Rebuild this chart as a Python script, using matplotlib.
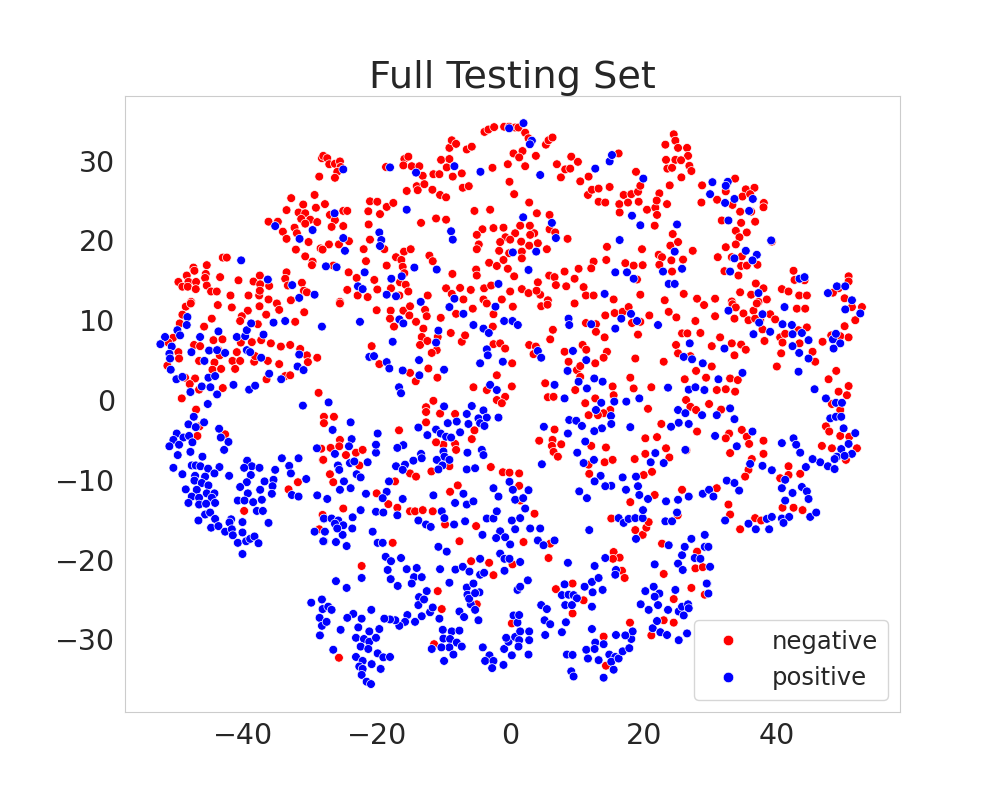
import numpy as np
import pandas as pd
import seaborn as sns
from matplotlib import pyplot as plt

# t-SNE points, (x, y) per point
negative_xy = [
    (-28.2, 30.3), (-28.6, 28.0), (-32.8, 25.3), (-29.3, 25.7), (-33.5, 23.8), (-31.0, 24.5),
    (-31.7, 23.5), (-30.7, 23.4), (-29.1, 24.1), (-36.2, 22.35), (-34.8, 22.35), (-31.3, 22.7),
    (-29.95, 22.6), (-30.7, 22.1), (-28.9, 22.3), (-32.3, 21.6), (-34.05, 21.1), (-31.95, 20.9),
    (-33.5, 20.2), (-30.2, 19.8), (-28.4, 19.0), (-32.1, 18.85), (-30.7, 18.0), (-29.6, 17.35),
    (-29.7, 16.9), (-43.05, 17.85), (-42.45, 17.85), (-45.45, 16.9), (-47.45, 16.6), (-47.3, 16.2),
    (-48.45, 15.6), (-45.6, 15.8), (-45.7, 15.3), (-49.7, 14.8), (-48.2, 14.8), (-47.05, 14.8),
    (-49.1, 14.2), (-48.3, 14.2), (-45.45, 14.35), (-47.1, 13.9), (-43.45, 15.4), (-40.7, 15.0),
    (-38.45, 14.85), (-37.5, 15.6), (-37.45, 14.5), (-36.1, 14.3), (-33.5, 16.0), (-33.7, 15.2),
    (-33.3, 14.35), (-31.2, 14.7), (-30.9, 13.7), (-30.45, 13.5), (-44.8, 13.6), (-43.95, 13.6),
    (-41.9, 13.1), (-39.2, 13.1), (-37.6, 13.1), (-37.5, 13.7), (-36.2, 12.6), (-32.85, 12.5),
    (-47.8, 12.3),
    (-48.6, 11.7), (-47.85, 12.1), (-43.8, 11.9), (-41.7, 11.6), (-39.3, 11.2), (-40.2, 10.5),
    (-40.45, 9.9), (-37.55, 11.75), (-34.95, 12.1), (-34.6, 11.3), (-36.55, 10.7), (-30.85, 11.0),
    (-32.2, 9.8), (-37.8, 9.5), (-49.1, 10.7), (-49.5, 9.6), (-45.85, 9.2), (-44.7, 10.2),
    (-50.5, 7.8), (-51.2, 7.2), (-47.35, 6.9), (-46.45, 6.75), (-44.45, 7.5), (-43.1, 7.6),
    (-40.35, 7.2), (-38.7, 7.25), (-37.3, 7.5), (-35.85, 7.1), (-34.35, 6.7), (-32.95, 6.9),
    (-31.45, 6.4), (-30.45, 5.6), (-28.9, 5.3), (-30.3, 4.75), (-49.7, 6.0), (-49.6, 5.2),
    (-51.35, 4.3), (-46.6, 4.9), (-43.7, 6.25), (-43.5, 5.6), (-40.95, 6.0), (-44.3, 4.7),
    (-44.6, 3.8), (-43.3, 3.9), (-41.6, 4.9), (-40.45, 4.9), (-41.2, 3.9), (-38.35, 4.8),
    (-38.2, 5.5), (-36.3, 4.9), (-34.6, 4.5), (-33.7, 3.0), (-32.95, 3.1), (-36.5, 2.6),
    (-48.7, 2.8), (-47.2, 2.7), (-48.0, 2.0), (-43.05, 1.5), (-49.2, 0.2), (-46.6, 1.3),
    (-47.05, -1.2), (-28.7, 0.9), (-27.9, -2.1), (-27.9, -2.9), (-46.55, -3.3), (-46.85, -4.5),
    (-42.7, -4.3), (-28.3, -6.1), (-28.05, -7.5), (-31.8, -10.3), (-33.2, -11.2),
    (-39.85, -13.9), (-28.6, -16.2), (-28.1, -14.4),
    (-28.0, 30.6), (-27.4, 30.3), (-27.1, 29.55), (-26.25, 29.6), (-25.5, 29.9), (-25.4, 29.2),
    (-25.9, 28.6), (-26.25, 27.85), (-18.6, 29.2), (-15.85, 30.2), (-15.25, 30.5), (-16.0, 29.4),
    (-14.75, 29.3), (-13.6, 29.3), (-13.1, 28.1), (-14.0, 26.8), (-13.85, 26.3), (-15.5, 26.2),
    (-12.85, 27.05), (-11.65, 26.35), (-11.5, 28.3), (-10.6, 28.3), (-10.35, 30.1), (-9.1, 30.2),
    (-9.5, 29.15), (-8.6, 28.0), (-7.25, 28.4), (-7.1, 26.6), (-6.2, 26.8), (-10.5, 25.7),
    (-9.6, 25.4), (-9.1, 31.6), (-8.75, 32.55), (-8.1, 32.1), (-6.5, 31.4), (-5.75, 31.75),
    (-3.85, 33.6), (-3.25, 33.9), (-2.4, 34.2), (-0.9, 34.25), (-0.15, 34.25), (0.75, 34.15),
    (0.5, 30.9), (-0.35, 29.55), (-2.65, 29.1), (-0.1, 27.35), (0.6, 25.8), (-27.75, 24.55),
    (-27.0, 23.2), (-26.25, 22.55), (-25.0, 23.7), (-24.4, 23.7), (-25.0, 21.8), (-26.75, 21.7),
    (-24.15, 19.9), (-25.65, 19.5), (-27.15, 19.5), (-28.1, 18.85), (-21.0, 24.9), (-19.9, 24.85),
    (-21.25, 23.65), (-18.5, 24.2), (-17.5, 24.7), (-19.5, 23.3), (-21.2, 22.0), (-21.0, 20.1),
    (-21.95, 18.9), (-18.85, 18.9), (-21.6, 17.4), (-24.2, 16.0), (-26.5, 16.85), (-23.0, 15.3),
    (-24.4, 13.8), (-22.85, 13.1), (-21.35, 12.9), (-20.35, 15.05), (-19.9, 13.85), (-18.5, 16.85),
    (-17.1, 17.9), (-15.9, 18.6), (-14.9, 18.9), (-16.3, 17.55), (-16.1, 16.7), (-15.85, 15.9),
    (-17.85, 14.0), (-16.5, 14.75), (-15.65, 14.45), (-15.25, 13.6), (-16.6, 13.1), (-12.35, 13.1),
    (-13.35, 22.2), (-11.1, 22.75), (-9.6, 22.6), (-12.1, 18.1), (-11.6, 17.4), (-8.65, 15.8),
    (-9.6, 14.0), (-7.5, 14.05), (-5.35, 23.7), (-3.0, 23.85), (-4.15, 21.4), (-2.5, 21.55),
    (-1.0, 21.6), (-5.0, 20.7), (-4.7, 19.5), (-5.0, 18.9), (-0.7, 20.4), (0.75, 20.9),
    (-1.5, 19.8), (0.0, 20.1), (-1.65, 18.7), (-0.15, 18.4), (-3.15, 17.2), (-1.0, 17.55),
    (-2.0, 16.8), (-0.35, 16.45), (-5.1, 16.35), (-5.0, 15.6), (-3.9, 14.0), (-2.85, 14.35),
    (0.6, 15.5), (0.0, 13.6), (-1.25, 12.6), (-4.0, 12.6), (-5.9, 13.8), (-7.0, 12.6),
    (-8.75, 13.3), (-25.5, 12.3),
    (-25.5, 12.1), (-20.0, 11.25), (-17.9, 11.2), (-18.0, 10.2), (-17.4, 9.2), (-16.0, 11.2),
    (-15.0, 11.75), (-15.1, 10.6), (-14.1, 9.8), (-12.75, 11.3), (-12.5, 10.5), (-13.0, 8.95),
    (-13.25, 7.9), (-13.5, 6.9), (-12.4, 7.4), (-10.85, 7.9), (-11.0, 6.25), (-11.75, 5.9),
    (-10.4, 10.3), (-8.1, 10.8), (-8.9, 8.4), (-7.25, 7.3), (-6.75, 8.1), (-5.6, 11.45),
    (-2.5, 10.75), (-2.6, 9.2), (-3.5, 12.1), (-2.5, 7.0), (-1.5, 7.1), (0.4, 11.7),
    (-0.75, 6.45), (0.3, 4.6), (-20.75, 6.75), (-19.6, 4.5), (-15.0, 3.4), (-14.15, 2.35),
    (-12.25, 3.95), (-10.9, 2.8), (-5.5, 1.6), (-3.5, 1.25), (-2.0, 3.1), (0.25, 1.7),
    (-0.75, 0.4), (-2.0, 0.0), (-1.25, -0.4), (-11.5, -0.1), (-12.6, -0.9), (-12.6, -1.5),
    (-10.5, -1.7), (-8.25, -1.75), (-12.6, -2.8), (-5.35, -3.8), (-5.75, -4.9), (-8.25, -5.5),
    (-10.0, -5.6), (-11.1, -5.3), (-8.1, -6.25), (-16.65, -3.8), (-25.5, -5.0), (-26.9, -6.0),
    (-25.6, -5.8), (-24.6, -6.9), (-23.1, -6.6), (-22.1, -6.25), (-28.0, -7.5), (-22.6, -8.2),
    (-27.0, -9.3), (-26.5, -10.3), (-15.0, -9.2), (-17.25, -10.2), (-14.1, -9.6), (-9.1, -8.3),
    (-11.8, -8.95), (-2.9, -8.4), (-1.1, -9.05), (-0.1, -9.1), (-7.85, -10.7), (-9.0, -11.5),
    (-20.0, -11.7), (-18.25, -13.05), (-26.4, -2.1),
    (-25.0, -13.6), (-16.9, -13.5), (-15.0, -13.95), (-14.25, -13.95), (-13.1, -13.8),
    (-11.6, -13.95), (-9.75, -15.6), (-5.1, -15.8), (-7.6, -17.7), (-17.6, -17.9), (-22.25, -20.8),
    (-5.85, -20.2), (-3.15, -20.4), (-2.5, -21.95), (0.35, -20.6), (-10.85, -23.95),
    (-10.25, -26.2), (-5.0, -25.6), (0.25, -28.0), (-11.4, -30.6), (-25.65, -32.3),
    (1.25, 34.15), (2.25, 33.5), (2.75, 32.8), (5.35, 32.0), (5.75, 32.55), (6.35, 32.9),
    (1.85, 31.2), (1.35, 30.4), (2.25, 29.3), (3.85, 30.6), (7.0, 29.55), (8.25, 28.9),
    (7.6, 27.9), (9.15, 30.5), (10.15, 29.85), (9.0, 29.0), (10.5, 27.4), (11.75, 28.0),
    (11.65, 25.7), (12.25, 26.35), (13.25, 26.5), (14.9, 26.7), (13.25, 24.85), (14.25, 24.75),
    (16.25, 30.9), (17.0, 25.7), (16.35, 24.55), (16.4, 23.5), (17.65, 24.75), (18.15, 25.8),
    (19.15, 26.1), (19.25, 24.85), (19.5, 26.85), (18.85, 28.6), (20.5, 23.85), (21.75, 24.1),
    (22.0, 23.2), (22.35, 25.9), (21.95, 25.0), (23.5, 24.55), (21.65, 21.85), (23.9, 26.9),
    (24.5, 33.3), (24.75, 32.5), (25.15, 31.6), (23.25, 32.0), (26.5, 31.6), (26.65, 30.6),
    (23.35, 30.1), (24.75, 30.1), (25.6, 30.05), (25.65, 27.9), (26.85, 29.35), (27.15, 28.7),
    (23.55, 29.0), (24.25, 29.1), (28.75, 26.9), (28.65, 24.75), (2.85, 24.75), (4.0, 23.4),
    (5.9, 23.2), (1.5, 21.85), (2.95, 21.85), (3.6, 20.9), (5.9, 21.4), (6.75, 21.0),
    (1.65, 19.85), (3.0, 20.7), (4.15, 19.65), (5.5, 18.9), (1.75, 18.6), (2.85, 19.35),
    (1.75, 17.75), (8.6, 20.2), (14.5, 19.2), (14.4, 17.55), (12.5, 17.35), (12.15, 16.5),
    (10.25, 16.45), (8.15, 16.1), (5.85, 15.6), (6.65, 15.4), (9.65, 15.2), (8.4, 14.25),
    (11.0, 14.15), (11.35, 13.1), (12.5, 13.1), (6.85, 14.4), (4.15, 14.75), (1.75, 13.9),
    (2.75, 13.4), (4.5, 13.2), (5.65, 12.5), (3.95, 13.7), (19.75, 18.9), (17.25, 17.15),
    (18.5, 16.85), (19.85, 16.9), (19.0, 15.1), (22.25, 18.2), (22.75, 17.9), (24.15, 17.5),
    (25.9, 17.6), (27.35, 18.7), (24.0, 19.35), (25.15, 19.8), (24.35, 20.8), (22.35, 16.95),
    (24.25, 16.1), (26.0, 13.3), (28.0, 12.7), (23.15, 12.5), (19.5, 13.2), (15.5, 12.6),
    (4.65, 11.75), (5.6, 11.95), (9.65, 12.1), (14.25, 10.6), (15.65, 10.9), (16.85, 11.05),
    (17.75, 11.65), (18.25, 9.65), (19.5, 9.8), (20.85, 10.6), (23.75, 11.05), (24.9, 10.35),
    (27.75, 9.9), (29.05, 11.9), (11.35, 9.65), (12.85, 9.5), (12.85, 8.55), (14.15, 7.85),
    (19.15, 8.2), (6.4, 8.8), (6.0, 7.6), (2.85, 6.9), (3.85, 6.7), (3.5, 5.75),
    (8.15, 6.05), (10.85, 6.9), (11.4, 6.3), (14.5, 6.05), (14.0, 5.3), (12.75, 4.6),
    (8.75, 4.8), (10.0, 3.75), (10.5, 4.25), (18.75, 5.2), (23.0, 4.8), (25.75, 8.35),
    (26.55, 8.35), (28.5, 8.4), (24.85, 6.9), (25.15, 5.85), (27.0, 5.5), (27.85, 3.65),
    (26.15, 2.6), (29.35, 2.8), (26.35, 0.0), (27.0, -0.85), (27.85, -1.25), (5.25, 2.1),
    (5.65, 0.35), (6.5, 0.4), (9.75, 1.25), (10.5, 2.9), (12.75, 0.2), (15.35, 1.7),
    (15.5, 0.6), (11.25, -0.4), (15.0, -1.25), (14.0, -1.65), (13.15, -1.9), (11.75, -1.9),
    (18.0, 2.8), (18.5, 1.45), (21.15, 1.6), (20.65, -1.1), (6.65, -3.7), (4.35, -5.1),
    (6.35, -5.0), (6.25, -5.75), (7.65, -5.55), (6.5, -6.5), (7.15, -7.1), (12.15, -5.75),
    (14.35, -5.95), (18.65, -7.4), (20.25, -4.8), (22.0, -4.65), (20.25, -6.75), (23.35, -6.05),
    (23.85, -7.2), (26.4, -6.3), (22.65, -3.0), (28.0, -3.95), (1.35, -9.2), (1.35, -10.75),
    (1.5, -12.6), (11.75, -8.1), (11.85, -9.25), (14.15, -7.8), (15.35, -7.5), (20.0, -9.4),
    (21.25, -9.0), (21.65, -11.9), (18.0, -12.8), (25.75, -11.25),
    (3.65, -14.25), (2.0, -17.8), (6.0, -18.0), (5.75, -19.8), (6.85, -23.7), (9.35, -23.0),
    (11.0, -25.1), (9.35, -26.75), (15.5, -19.05), (16.4, -19.75), (15.4, -19.9), (16.75, -21.4),
    (17.15, -22.3), (15.15, -14.85), (18.75, -16.3), (19.85, -16.9), (20.4, -16.0), (20.75, -15.3),
    (22.75, -18.0), (25.1, -14.45), (23.0, -21.8), (28.0, -19.0), (27.75, -21.1), (28.85, -20.95),
    (27.15, -23.55), (29.15, -24.4), (24.5, -24.95), (23.0, -27.6), (24.5, -27.9), (21.15, -29.5),
    (17.95, -27.9), (14.0, -29.65), (14.35, -33.3),
    (33.7, 27.75), (35.3, 26.4), (36.6, 26.6), (32.3, 26.15), (34.8, 25.5), (35.95, 25.8),
    (31.0, 25.1), (33.3, 24.45), (34.45, 23.6), (36.1, 23.6), (38.0, 24.7), (37.95, 24.15),
    (31.7, 22.5), (34.6, 22.2), (36.7, 22.35), (33.8, 21.2), (35.45, 21.0), (34.35, 20.4),
    (33.8, 19.5), (32.3, 19.15), (31.1, 17.9), (33.2, 17.9), (34.7, 18.0), (32.1, 16.15),
    (34.6, 16.8), (35.45, 16.85), (37.05, 16.95), (34.2, 15.6), (39.2, 19.85), (42.45, 16.2),
    (42.6, 15.05), (44.1, 15.0), (36.8, 14.6), (37.95, 14.0), (34.45, 13.5), (36.1, 13.2),
    (40.7, 13.9), (41.7, 13.6), (43.3, 13.1), (44.45, 13.1), (30.7, 12.7), (33.2, 12.35),
    (37.2, 12.3), (38.45, 12.6), (50.7, 15.5), (49.2, 14.0), (48.35, 13.45), (50.1, 12.75),
    (50.7, 14.85),
    (33.3, 12.0), (33.8, 11.6), (34.95, 10.85), (36.45, 11.2), (36.95, 12.1), (37.45, 10.0),
    (38.95, 10.75), (39.7, 10.1), (37.8, 8.85), (35.7, 10.0), (36.7, 10.2), (33.6, 10.2),
    (30.7, 10.5), (31.45, 7.85), (30.2, 6.75), (33.2, 7.1), (34.6, 6.95), (35.3, 6.3),
    (33.6, 5.6), (38.1, 7.4), (40.45, 7.85), (40.8, 7.2), (40.6, 5.85), (39.95, 4.2),
    (41.2, 8.3), (42.95, 11.45), (44.2, 11.45), (43.2, 8.75), (44.45, 9.1), (43.35, 7.1),
    (45.3, 6.05), (45.7, 4.8), (46.8, 7.3), (48.1, 8.1), (49.45, 8.0), (50.7, 7.85),
    (50.1, 9.25), (51.7, 10.0), (51.2, 11.65), (52.7, 11.65), (48.85, 3.65), (47.7, 2.6),
    (50.7, 1.75), (50.45, 0.6), (49.2, 1.05), (49.45, -1.25), (48.2, -0.5), (47.3, -3.3),
    (47.8, -3.95), (49.45, -4.5), (46.7, -5.75), (48.2, -6.05), (50.3, -7.5), (50.8, -4.6),
    (51.95, -6.05), (30.2, 4.2), (32.95, 2.7), (34.1, 2.5), (30.95, 1.25), (32.3, 1.35),
    (33.7, 1.05), (29.8, -0.5), (31.6, -1.2), (32.8, -4.2), (32.3, -4.8), (34.7, -3.75),
    (35.45, -4.6), (35.8, -5.5), (32.95, -6.65), (37.95, -5.1), (37.95, -6.75), (36.2, -7.4),
    (35.7, -8.75), (35.2, -9.6), (40.45, -9.8), (41.7, -8.3), (41.7, -9.4), (43.45, -9.25),
    (30.95, -11.05), (32.7, -13.1),
    (32.95, -14.35), (34.45, -16.2), (36.7, -14.8), (37.6, -15.1), (40.8, -13.5), (42.45, -13.5),
    (43.8, -13.8),
]

positive_xy = [
    (-35.2, 21.8), (-31.55, 20.2), (-29.6, 21.3), (-40.3, 17.5), (-36.3, 15.1), (-32.65, 14.4),
    (-31.6, 12.8), (-29.3, 13.2),
    (-48.35, 10.4), (-48.45, 9.4), (-49.85, 8.75), (-49.45, 8.1), (-51.7, 7.9), (-52.4, 7.0),
    (-50.7, 6.7), (-51.05, 5.8), (-50.95, 5.2), (-50.85, 3.8), (-50.0, 2.6), (-49.1, 2.9),
    (-47.75, 6.0), (-46.45, 7.9), (-45.1, 6.2), (-43.7, 8.6), (-43.9, 6.25), (-42.7, 5.9),
    (-45.8, 4.9), (-45.2, 2.8), (-44.2, 3.0), (-46.2, 1.7), (-44.9, 1.6), (-43.9, 0.7),
    (-47.9, 1.0), (-41.45, 1.9), (-39.1, 1.3), (-38.2, 1.8), (-40.95, 7.9), (-39.7, 8.0),
    (-39.45, 8.75), (-38.8, 9.6), (-36.95, 8.2), (-39.45, 6.25), (-38.95, 6.0), (-37.3, 5.3),
    (-35.45, 9.7), (-33.7, 9.9), (-36.1, 3.3), (-34.3, 2.6), (-31.85, 4.2), (-30.95, 3.75),
    (-31.6, 5.7), (-28.2, 9.2), (-31.05, -0.7), (-45.3, -0.5), (-47.4, -2.1), (-48.2, -3.05),
    (-45.85, -2.8), (-47.1, -3.4), (-43.6, -3.6), (-49.95, -4.2), (-50.45, -5.0), (-48.95, -4.7),
    (-48.1, -4.5), (-49.6, -5.6), (-51.05, -5.8), (-47.6, -5.3), (-42.2, -5.25), (-43.35, -4.7),
    (-42.85, -6.25), (-47.9, -6.5), (-49.8, -6.9), (-46.1, -7.1), (-50.45, -8.5), (-47.7, -8.2),
    (-47.1, -8.2), (-46.4, -8.3), (-45.25, -8.6), (-43.55, -8.4), (-49.1, -9.3), (-47.2, -9.5),
    (-45.7, -9.6), (-44.3, -9.2), (-42.1, -9.5), (-47.3, -10.1), (-46.2, -10.4), (-45.2, -10.7),
    (-48.6, -11.2), (-46.95, -11.25), (-45.45, -11.7), (-44.3, -11.7), (-47.7, -12.1),
    (-46.6, -12.25), (-44.7, -12.25), (-48.2, -12.9), (-46.6, -13.1), (-45.55, -13.0),
    (-44.2, -12.9), (-39.4, -7.6), (-38.7, -8.3), (-39.85, -8.5), (-37.55, -8.5), (-38.85, -9.4),
    (-39.45, -10.3), (-36.8, -10.2), (-35.45, -10.0), (-35.2, -8.75), (-34.2, -7.3), (-33.1, -8.25),
    (-31.7, -7.3), (-32.85, -9.2), (-30.55, -9.9), (-40.45, -10.9), (-39.3, -11.7), (-37.45, -11.25),
    (-35.6, -10.8), (-35.7, -11.75), (-32.7, -11.9), (-31.7, -12.1), (-28.9, -11.95), (-40.8, -12.6),
    (-39.8, -12.6), (-38.5, -12.8), (-37.2, -12.5), (-28.95, -6.05),
    (-45.7, -14.35), (-44.95, -14.1), (-46.7, -15.1), (-44.2, -14.9), (-44.8, -16.0), (-43.7, -15.8),
    (-41.8, -14.95), (-42.05, -15.35), (-42.7, -16.5), (-41.7, -16.2), (-41.55, -16.95), (-40.1, -15.3),
    (-40.1, -16.6), (-40.8, -17.9), (-39.55, -17.7), (-38.95, -17.4), (-38.3, -17.1), (-37.7, -17.95),
    (-40.1, -19.3), (-37.95, -13.9), (-37.05, -13.9), (-36.2, -15.4), (-29.3, -16.5), (-27.9, -14.9),
    (-27.9, -17.7), (-29.8, -25.4), (-28.2, -25.0), (-28.1, -26.2), (-28.55, -27.3), (-28.2, -28.3),
    (-28.5, -29.5),
    (-25.0, 28.9), (-18.0, 29.15), (-14.1, 28.5), (-8.35, 29.3), (-4.45, 28.6), (-0.15, 34.05),
    (-15.5, 23.85), (-26.3, 23.4), (-19.6, 21.0), (-19.3, 20.05), (-19.5, 19.3), (-25.0, 20.3),
    (-24.75, 18.7), (-27.6, 16.75), (-26.0, 16.65), (-21.8, 16.0), (-17.8, 15.2), (-16.25, 15.5),
    (-14.35, 16.6), (-11.0, 16.35), (-8.85, 21.15), (-8.6, 20.1), (0.4, 18.5), (-1.75, 14.55),
    (-8.35, 12.7), (-13.4, 12.3), (-18.5, 13.2), (-17.1, 13.0), (-22.8, 14.25), (-22.1, 13.9),
    (-22.5, 9.8), (-16.6, 10.1), (-16.0, 9.6), (-17.6, 7.3), (-13.65, 5.0), (-11.1, 7.2),
    (-10.75, 8.7), (-21.1, 5.4), (-20.4, 5.5), (-18.5, 4.75), (-18.1, 3.95), (-16.1, 3.7),
    (-13.6, 3.1), (-9.9, 3.8), (-16.65, 1.6), (-16.35, 0.85), (-9.1, 11.65), (-7.0, 10.8),
    (-5.5, 9.4), (-4.0, 8.95), (-3.2, 8.4), (-0.9, 9.9), (0.35, 9.9), (-3.5, 6.35),
    (-3.35, 5.6), (-4.5, 4.6), (-1.1, 4.8), (-3.0, 1.9), (-2.0, 1.25), (-2.2, 11.7),
    (-9.9, -0.8), (-5.75, -0.75), (-4.0, -1.3), (-6.5, -1.75), (-4.75, -2.3), (-3.5, -2.2),
    (-1.75, -2.2), (-9.35, -2.9), (-8.0, -2.7), (-13.75, -3.45), (-12.4, -4.4), (-11.1, -3.7),
    (-10.4, -4.2), (-9.6, -4.6), (-8.85, -4.7), (-7.5, -4.05), (-6.25, -3.0), (-4.5, -2.9),
    (-3.85, -3.25), (-27.2, -0.3), (-26.6, -3.75), (-23.9, -2.8), (-19.85, -4.2), (-23.75, -4.9),
    (-24.15, -5.8), (-26.25, -6.75), (-20.1, -6.6), (-20.1, -5.6), (-16.0, -5.65), (-16.9, -6.0),
    (-13.35, -6.75), (-13.25, -7.3), (-14.5, -7.6), (-10.0, -6.45), (-9.85, -7.1), (-11.0, -7.5),
    (-10.15, -8.2), (-10.75, -8.7), (-9.1, -7.5), (-6.4, -6.6), (-6.5, -8.7), (-5.25, -8.55),
    (-4.25, -6.25), (-4.0, -6.9), (-17.1, -8.3), (-15.75, -8.1), (-16.1, -8.75), (-25.8, -8.2),
    (-25.6, -8.75), (-24.0, -7.9), (-23.35, -7.7), (-23.0, -9.3), (-22.4, -9.7), (-23.9, -11.05),
    (-24.9, -10.2), (-25.5, -11.25), (-21.35, -7.8), (-21.6, -11.75), (-18.5, -11.5), (-18.15, -10.2),
    (-2.5, -11.05), (-1.75, -12.1), (-0.1, -10.25), (0.4, -11.25), (0.75, -12.5), (-7.0, -11.75),
    (-8.25, -12.9), (-6.5, -13.1), (-5.5, -12.7), (-11.5, -11.95), (-16.1, -12.4), (-19.1, -12.3),
    (-27.4, -12.4),
    (-27.9, -14.85), (-26.75, -14.85), (-25.75, -15.1), (-25.0, -15.7), (-23.6, -14.7), (-23.65, -16.1),
    (-25.1, -16.9), (-26.25, -15.5), (-25.9, -16.1), (-27.75, -16.5), (-28.0, -17.7), (-26.1, -17.8),
    (-24.5, -18.3), (-22.4, -13.8), (-20.1, -14.0), (-19.0, -14.1), (-16.9, -14.45), (-13.75, -15.1),
    (-12.6, -15.6), (-11.9, -15.9), (-10.25, -13.95), (-9.85, -14.8), (-8.4, -15.6), (-6.75, -15.2),
    (-3.5, -14.85), (-2.5, -14.85), (-2.0, -13.95), (0.25, -15.1), (0.75, -16.2), (-1.5, -16.45),
    (-0.75, -17.2), (0.0, -18.1), (-4.15, -16.9), (-2.1, -17.3), (-20.6, -16.5), (-19.85, -17.9),
    (-19.1, -17.9), (-10.75, -18.4), (-9.5, -19.0), (-18.65, -19.65), (-17.85, -20.2), (-16.35, -19.8),
    (-18.35, -21.3), (-17.9, -22.45), (-15.5, -21.2), (-14.0, -21.05), (-14.4, -22.2), (-13.25, -22.2),
    (-14.75, -23.0), (-16.85, -23.3), (-22.25, -22.3), (-26.1, -22.7), (-24.5, -23.55), (-10.5, -21.2),
    (-9.1, -22.9), (-8.2, -21.25), (-7.1, -20.9), (-6.1, -21.5), (-4.5, -21.9), (-4.5, -19.9),
    (-3.9, -21.65), (-1.5, -19.25), (-0.85, -19.9), (-0.1, -19.9), (-0.85, -21.4), (-6.5, -23.5),
    (-5.5, -23.0), (-4.6, -24.1), (-6.4, -24.4), (-12.5, -23.95), (-13.65, -24.7), (-13.75, -25.7),
    (-12.9, -25.0), (-12.0, -26.6), (-13.25, -27.1), (-15.4, -26.95), (-14.25, -27.8), (-15.75, -27.8),
    (-16.6, -28.3), (-17.2, -27.6), (-18.0, -27.5), (-18.85, -27.4), (-19.6, -28.7), (-20.8, -26.3),
    (-22.25, -27.4), (-23.5, -26.8), (-24.4, -27.3), (-22.75, -28.5), (-23.1, -29.8), (-25.4, -28.8),
    (-27.25, -25.9), (-26.75, -26.3), (-27.5, -27.8), (-26.5, -31.3), (-21.1, -29.0), (-21.9, -29.95),
    (-21.1, -30.3), (-20.1, -29.8), (-22.4, -30.9), (-21.25, -31.2), (-19.85, -31.75), (-19.0, -32.25),
    (-18.0, -32.2), (-23.1, -32.2), (-22.1, -32.7), (-22.6, -33.4), (-22.1, -33.7), (-20.75, -33.1),
    (-22.25, -34.45), (-21.5, -35.3), (-20.85, -35.6), (-19.4, -33.7), (-11.6, -26.0), (-10.6, -27.4),
    (-7.6, -26.5), (-6.9, -27.2), (-5.9, -25.6), (-6.15, -24.9), (-5.25, -26.3), (-4.75, -27.6),
    (-5.25, -24.2), (-10.1, -28.8), (-8.75, -29.0), (-7.6, -28.9), (-10.0, -29.9), (-9.0, -29.95),
    (-8.0, -30.4), (-7.25, -30.9), (-9.1, -31.0), (-10.3, -31.0), (-11.75, -31.2), (-8.5, -31.9),
    (-9.9, -32.7), (-4.1, -31.0), (-3.1, -32.0), (-3.75, -32.7), (-2.5, -32.7), (-2.7, -33.6),
    (-1.0, -33.2), (-0.9, -31.2), (0.25, -32.0), (-0.25, -30.3), (0.75, -29.7), (-0.6, -29.8),
    (0.5, -27.0), (1.1, -27.9), (1.1, -23.8),
    (2.0, 34.7), (3.25, 32.5), (2.95, 32.05), (4.5, 28.2), (12.75, 29.0), (14.9, 29.9),
    (15.25, 30.7), (19.95, 27.75), (18.25, 23.1), (19.5, 21.9), (25.0, 22.0), (16.4, 20.05),
    (1.95, 22.9), (6.25, 22.2), (6.85, 20.3), (3.9, 18.6), (2.75, 16.3), (15.75, 16.0),
    (17.5, 16.0), (18.5, 15.2), (22.9, 16.1), (24.65, 18.6), (25.75, 16.45), (23.75, 14.55),
    (24.65, 14.55), (14.15, 13.3),
    (1.15, 9.4), (8.75, 10.2), (8.85, 9.4), (12.15, 9.5), (15.75, 8.95), (16.65, 10.2),
    (18.1, 10.8), (19.0, 9.9), (22.15, 9.4), (4.15, 6.15), (4.65, 5.3), (9.4, 6.15),
    (11.4, 5.0), (8.6, 3.65), (10.25, 2.3), (11.5, 1.45), (12.6, 2.7), (13.85, 2.3),
    (8.15, 0.2), (6.65, 1.9), (13.65, -0.35), (15.6, -0.2), (17.4, -0.2), (19.35, 0.2),
    (23.65, 1.55), (12.85, -1.25), (15.1, -2.0), (15.15, -3.0), (13.75, -3.55), (12.6, -3.9),
    (8.85, -2.5), (9.9, -2.6), (10.75, -3.25), (5.05, -3.35), (8.65, -4.2), (18.0, -3.4),
    (11.25, -5.2), (10.05, -6.6), (12.55, -7.5), (11.0, -7.9), (4.75, -8.05), (13.55, -9.5),
    (12.65, -10.2), (15.15, -10.75), (16.85, -9.7), (17.35, -11.25), (14.25, -10.8), (10.35, -11.45),
    (11.5, -12.3), (18.85, -9.6), (19.15, -10.8), (19.35, -11.9), (20.65, -12.4), (23.35, -12.7),
    (25.15, -12.5), (26.75, -12.1), (28.85, -11.75), (21.05, -7.8), (21.75, -6.65), (23.0, -7.9),
    (25.25, -2.85), (24.1, -3.35), (26.75, -3.0), (26.25, -6.25), (26.9, 7.1), (26.0, 5.4),
    (27.25, 5.1), (28.85, 4.6), (26.75, 1.3), (27.75, 1.6), (29.1, 1.25), (25.15, -1.25),
    (26.25, -1.65), (28.75, -1.9), (2.75, -11.3), (1.95, -12.3),
    (2.25, -13.6), (1.5, -14.8), (3.0, -16.1), (4.5, -16.1), (4.15, -17.6), (5.0, -18.2),
    (6.65, -17.6), (1.5, -20.3), (2.65, -22.6), (1.5, -23.4), (4.65, -25.7), (5.5, -26.2),
    (5.15, -27.6), (6.0, -28.1), (8.35, -27.85), (7.75, -29.1), (5.25, -29.45), (1.35, -26.95),
    (1.5, -29.0), (2.85, -29.0), (1.35, -30.1), (2.85, -30.1), (1.25, -30.9), (2.75, -31.9),
    (11.85, -16.3), (8.65, -20.4), (12.65, -20.8), (8.15, -23.1), (7.75, -24.45), (8.75, -24.4),
    (9.5, -24.45), (10.0, -24.85), (8.25, -25.7), (9.25, -25.7), (12.25, -22.8), (13.25, -22.3),
    (12.35, -24.1), (11.15, -23.4), (13.85, -23.8), (12.25, -25.9), (12.25, -28.7), (12.75, -30.4),
    (14.0, -30.6), (11.4, -31.3), (12.65, -31.2), (11.65, -32.4), (13.25, -32.6), (14.85, -31.9),
    (15.75, -32.2), (15.15, -32.8), (16.25, -32.4), (16.85, -31.5), (17.85, -31.1), (18.15, -29.95),
    (18.35, -29.0), (17.25, -29.5), (15.85, -29.45), (14.0, -34.8), (15.5, -33.8), (9.15, -34.0),
    (9.5, -34.65), (8.5, -31.9), (9.35, -31.95), (14.25, -19.8), (15.85, -21.3), (15.75, -21.9),
    (16.25, -14.8), (17.0, -15.4), (17.75, -14.9), (18.75, -14.8), (19.85, -14.8), (18.85, -17.4),
    (19.9, -13.8), (25.0, -14.1), (23.25, -15.2), (24.25, -15.2), (23.75, -18.2), (21.65, -20.6),
    (25.15, -20.5), (25.75, -19.45), (25.85, -21.3), (26.15, -18.4), (27.15, -17.4), (27.65, -19.8),
    (28.5, -19.9), (29.15, -16.9), (29.15, -18.4), (29.5, -23.0), (20.25, -23.95), (21.5, -23.4),
    (22.35, -24.25), (21.65, -24.65), (19.55, -25.6), (20.75, -26.3), (22.15, -25.7), (21.35, -28.6),
    (22.5, -29.1), (23.5, -29.45), (22.0, -27.7), (23.65, -26.3), (25.25, -26.5), (25.75, -25.9),
    (26.65, -25.6), (26.75, -26.1), (26.0, -27.0), (24.75, -23.8), (26.5, -29.25), (25.25, -30.1),
    (30.3, 27.3), (32.6, 27.35), (32.3, 26.85), (29.95, 25.8), (32.2, 24.7), (33.6, 25.2),
    (36.35, 25.2), (35.8, 23.7), (32.7, 22.5), (39.1, 20.0), (35.3, 18.7), (33.6, 17.75),
    (36.95, 18.2), (36.3, 17.5), (32.95, 16.1), (43.35, 15.2), (44.1, 15.4), (37.2, 13.4),
    (47.6, 13.4), (48.95, 14.25), (50.2, 14.25), (51.2, 12.5),
    (32.7, 11.2), (37.8, 10.75), (37.3, 9.7), (36.45, 8.25), (38.95, 8.55), (40.8, 9.5),
    (42.2, 9.4), (42.3, 8.25), (43.7, 8.4), (44.7, 7.5), (42.3, 6.75), (43.3, 5.9),
    (44.7, 5.2), (43.2, 3.55), (41.1, 11.65), (50.2, 11.35), (52.45, 10.85), (48.35, 7.6),
    (48.8, 8.3), (49.45, 7.1), (48.45, 6.45), (32.1, 6.45), (34.8, 3.4), (31.2, 2.6),
    (45.6, 1.35), (47.3, 0.2), (48.8, -0.35), (49.7, -0.35), (47.95, -2.3), (48.8, -2.1),
    (49.6, -2.1), (49.95, -3.55), (51.7, -4.15), (50.7, -5.5), (49.6, -6.15), (48.95, -7.1),
    (51.2, -6.75), (48.6, -7.4), (50.1, -7.0), (46.45, -7.8), (47.6, -8.3), (48.6, -8.65),
    (45.3, -7.4), (44.3, -8.4), (42.45, -4.8), (42.85, -5.6), (40.7, -5.4), (43.45, -6.6),
    (39.2, -8.8), (37.8, -8.25), (41.2, -10.0), (40.7, -11.05), (42.3, -11.65), (43.7, -10.9),
    (44.45, -11.45), (44.7, -12.4), (41.2, -12.6), (32.95, -1.05), (30.95, -1.9), (33.6, -2.4),
    (30.7, -4.5), (36.3, -3.95), (33.95, -5.8), (35.95, -8.0), (32.45, -10.1), (33.6, -10.4),
    (34.3, -11.35), (29.8, -11.25), (30.45, -12.1),
    (32.2, -15.1), (35.7, -15.5), (36.8, -16.2), (38.8, -16.2), (38.45, -14.9), (39.2, -14.65),
    (40.7, -14.85), (41.8, -14.65), (40.95, -15.4), (44.95, -14.65), (45.85, -14.1), (29.7, -18.4),
    (29.95, -20.9), (29.45, -23.0), (29.7, -24.25),
]

labels = ["negative", "positive"]
colors = ["red", "blue"]

neg = np.array(negative_xy)
pos = np.array(positive_xy)
df = pd.DataFrame({
    "x": np.concatenate([neg[:, 0], pos[:, 0]]),
    "y": np.concatenate([neg[:, 1], pos[:, 1]]),
    "label": [labels[0]] * len(neg) + [labels[1]] * len(pos),
})

sns.set_style("whitegrid")
plt.rcParams["font.family"] = ["DejaVu Sans"]

fig, ax = plt.subplots(figsize=(10, 8), dpi=100)
sns.scatterplot(data=df, x="x", y="y", hue="label", hue_order=labels,
                palette=dict(zip(labels, colors)), s=40, ax=ax)
ax.grid(False)
ax.set_xlabel("")
ax.set_ylabel("")
ax.set_xlim(-57.7, 58.4)
ax.set_ylim(-39.1, 38.1)
ax.set_xticks([-40, -20, 0, 20, 40])
ax.set_yticks([-30, -20, -10, 0, 10, 20, 30])
ax.tick_params(labelsize=20.5, colors=".15")
ax.set_title("Full Testing Set", fontsize=27.5, color=".15")
ax.legend(loc="lower right", fontsize=17.5, markerscale=1.2)

fig.savefig("out.png", dpi=100)
